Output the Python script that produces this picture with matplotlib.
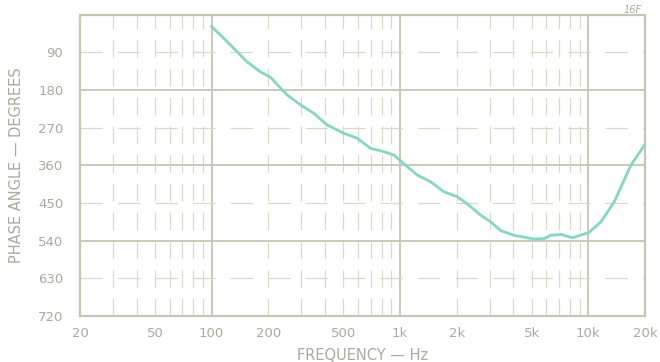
import matplotlib
matplotlib.use('Agg')
import matplotlib.pyplot as plt

# phase response
freq = [100, 116, 154, 181, 205, 251, 296, 348, 410, 503, 593, 698, 820, 929,
        1094, 1236, 1455, 1711, 2018, 2281, 2686, 3035, 3430, 4036, 5156, 5825,
        6325, 7150, 8250, 10100, 11670, 13740, 16860, 20200]
phase = [28, 56, 112, 136, 149, 191, 215, 235, 263, 283, 295, 319, 327, 335,
         363, 383, 399, 423, 435, 452, 479, 495, 516, 527, 536, 535,
         527, 525, 533, 520, 495, 447, 359, 307]

x_ticks = [20, 50, 100, 200, 500, 1000, 2000, 5000, 10000, 20000]
x_labels = ['20', '50', '100', '200', '500', '1k', '2k', '5k', '10k', '20k']
y_ticks = [90, 180, 270, 360, 450, 540, 630, 720]
major_x = [100, 1000, 10000]
minor_x = [30, 40, 50, 60, 70, 80, 90, 200, 300, 400, 500, 600, 700, 800, 900,
           2000, 3000, 4000, 5000, 6000, 7000, 8000, 9000]
major_y = [180, 360, 540]
minor_y = [90, 270, 450, 630]

grid_c = '#c6c6b2'
minor_c = '#dadacb'
text_c = '#aaaa9e'

fig = plt.figure(figsize=(6.6, 3.62), dpi=100)
ax = fig.add_axes([0.1212, 0.127, 0.856, 0.832])
ax.set_xscale('log')
ax.set_xlim(20, 20000)
ax.set_ylim(720, 0)

for v in major_x:
    ax.axvline(v, color=grid_c, lw=1.3, zorder=1)
for v in minor_x:
    ax.axvline(v, color=minor_c, lw=0.9, ls=(0, (14, 9)), zorder=1)
for v in major_y:
    ax.axhline(v, color=grid_c, lw=1.3, zorder=1)
for v in minor_y:
    ax.axhline(v, color=minor_c, lw=0.9, ls=(0, (18, 12)), zorder=1)

ax.plot(freq, phase, color='#86d6c4', lw=2.0, zorder=3)

ax.set_xticks(x_ticks)
ax.set_xticklabels(x_labels)
ax.xaxis.set_minor_locator(matplotlib.ticker.NullLocator())
ax.set_yticks(y_ticks)
ax.tick_params(length=0, colors=text_c, labelsize=9.5)
ax.tick_params(axis='x', pad=8)
ax.tick_params(axis='y', pad=12)
for s in ax.spines.values():
    s.set_color(grid_c)
    s.set_linewidth(1.6)

ax.set_xlabel('FREQUENCY — Hz', color=text_c, fontsize=10.5, labelpad=6)
ax.set_ylabel('PHASE ANGLE — DEGREES', color=text_c, fontsize=10.5, labelpad=10)
fig.text(0.945, 0.985, '16F', color=text_c, fontsize=7, style='italic', va='top')

fig.savefig('out.png', dpi=100, facecolor='white')
